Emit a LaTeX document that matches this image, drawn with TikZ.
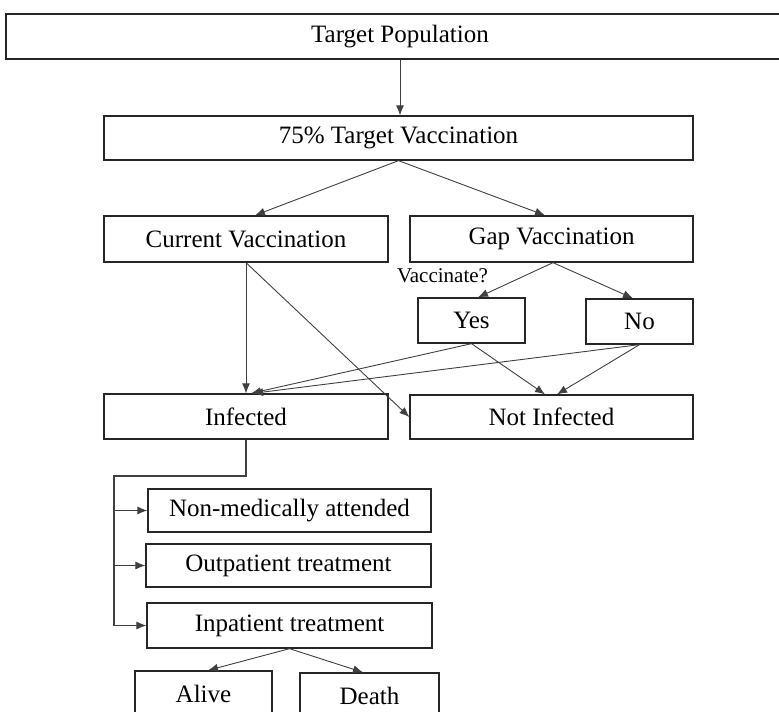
\documentclass[tikz,border=0pt]{standalone}
\usepackage{fontspec}
\setmainfont{Liberation Serif}
\usetikzlibrary{arrows.meta,calc}
\begin{document}
\begin{tikzpicture}[x=1pt,y=-1pt,
  box/.style={draw=black!85, line width=1.3pt, inner sep=0pt, minimum height=45pt,
    font=\fontsize{25}{28}\selectfont},
  conn/.style={draw=black!75, line width=0.9pt, -{Latex[length=10pt,width=8pt]}},
  plain/.style={draw=black!75, line width=1.1pt}]
\useasboundingbox (0,0) rectangle (779,712);
\node[box, minimum width=788pt] (tp) at (400,36.5) {Target Population};
\node[box, minimum width=589pt, minimum height=44pt] (v75) at (398.5,138) {75\% Target Vaccination};
\node[box, minimum width=284pt, minimum height=46pt] (cur) at (246,239) {Current Vaccination};
\node[box, minimum width=283pt, minimum height=46pt] (gap) at (551.5,239) {Gap Vaccination};
\node[font=\fontsize{21}{23}\selectfont, inner sep=0pt] (vq) at (442.5,276) {Vaccinate?};
\node[box, minimum width=107pt] (yes) at (471.5,320.5) {Yes};
\node[box, minimum width=107pt] (no) at (639.5,321.5) {No};
\node[box, minimum width=284pt] (inf) at (246,416.5) {Infected};
\node[box, minimum width=283pt, minimum height=44pt] (ninf) at (551.5,417) {Not Infected};
\node[box, minimum width=283pt, minimum height=43pt] (nonmed) at (289.5,510.5) {Non-medically attended};
\node[box, minimum width=285pt, minimum height=43pt] (outp) at (288.5,565.5) {Outpatient treatment};
\node[box, minimum width=285pt] (inp) at (289.5,625.5) {Inpatient treatment};
\node[box, minimum width=137pt] (alive) at (203.5,693.5) {Alive};
\node[box, minimum width=139pt] (death) at (369.5,695.5) {Death};

\draw[conn] (tp.south) -- (tp.south |- v75.north);
\draw[conn] (v75.south) -- ([xshift=9pt]cur.north);
\draw[conn] (v75.south) -- ([xshift=-6.5pt]gap.north);
\draw[conn] ([xshift=1.5pt]gap.south) -- ([xshift=6.5pt]yes.north);
\draw[conn] ([xshift=1.5pt]gap.south) -- ([xshift=-6.5pt]no.north);
\draw[conn] (cur.south) -- (inf.north);
\draw[conn] (cur.south) -- (ninf.west);
\draw[conn] (yes.south) -- ([xshift=5pt]inf.north);
\draw[conn] (yes.south) -- ([xshift=-6.5pt]ninf.north);
\draw[conn] (no.south) -- ([xshift=7pt]inf.north);
\draw[conn] (no.south) -- ([xshift=5.5pt]ninf.north);
\coordinate (bend) at (114,476);
\draw[plain] (inf.south) |- (bend) -- (bend |- inp.west);
\draw[conn] (bend |- nonmed.west) -- (nonmed.west);
\draw[conn] (bend |- outp.west) -- (outp.west);
\draw[conn] (bend |- inp.west) -- (inp.west);
\draw[conn] (inp.south) -- ([xshift=4.5pt]alive.north);
\draw[conn] (inp.south) -- ([xshift=-6.5pt]death.north);
\end{tikzpicture}
\end{document}
